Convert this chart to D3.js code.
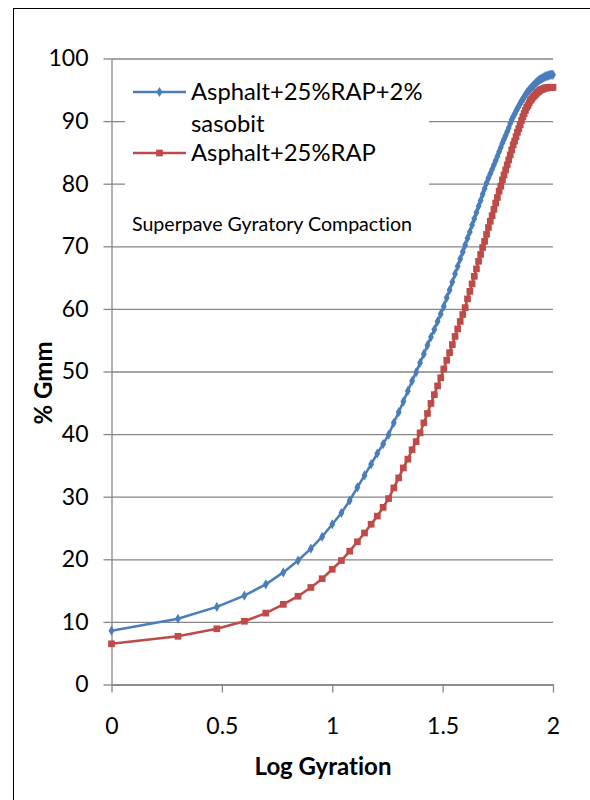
<!DOCTYPE html>
<html>
<head>
<meta charset="utf-8">
<script src="https://cdn.jsdelivr.net/npm/d3@7"></script>
<style>
  body { margin: 0; background: #fff; }
  svg text { font-family: Lato, "Open Sans", sans-serif; fill: #000; font-variant-ligatures: none; }
</style>
</head>
<body>
<div id="chart"></div>
<script>
// gyration count 1..100, plotted on log10 axis
const gyrations = [1,2,3,4,5,6,7,8,9,10,11,12,13,14,15,16,17,18,19,20,
  21,22,23,24,25,26,27,28,29,30,31,32,33,34,35,36,37,38,39,40,
  41,42,43,44,45,46,47,48,49,50,51,52,53,54,55,56,57,58,59,60,
  61,62,63,64,65,66,67,68,69,70,71,72,73,74,75,76,77,78,79,80,
  81,82,83,84,85,86,87,88,89,90,91,92,93,94,95,96,97,98,99,100];

const sasobitGmm = [8.6,10.5,12.4,14.2,16.0,17.9,19.8,21.7,23.6,25.6,
  27.4,29.4,31.5,33.4,35.2,36.9,38.4,39.9,41.8,43.5,
  45.2,46.9,48.5,49.9,51.4,52.8,54.2,55.5,56.7,58.0,
  59.2,60.4,61.8,63.0,64.3,65.6,66.8,68.0,69.1,70.2,
  71.3,72.3,73.4,74.4,75.4,76.4,77.3,78.3,79.2,80.1,
  80.9,81.6,82.3,83.0,83.7,84.4,85.1,85.8,86.5,87.1,
  87.7,88.3,88.9,89.6,90.2,90.7,91.1,91.6,92.0,92.4,
  92.8,93.2,93.5,93.8,94.2,94.5,94.7,95.0,95.2,95.4,
  95.6,95.8,96.0,96.2,96.3,96.5,96.6,96.7,96.8,96.9,
  97.0,97.1,97.2,97.2,97.3,97.3,97.4,97.4,97.4,97.4];

const rapGmm = [6.5,7.7,8.9,10.1,11.4,12.8,14.1,15.5,16.9,18.4,
  19.8,21.3,22.8,24.2,25.6,26.9,28.3,29.7,31.4,33.0,
  34.6,36.0,37.5,38.8,40.2,41.8,43.3,44.9,46.3,47.7,
  49.0,50.4,51.8,53.0,54.3,55.6,56.8,58.0,59.1,60.2,
  61.6,62.8,64.0,65.2,66.4,67.6,68.7,69.8,70.8,71.9,
  73.0,74.0,74.9,75.9,76.9,77.8,78.8,79.6,80.6,81.4,
  82.2,83.0,83.8,84.6,85.4,86.2,86.8,87.5,88.2,88.8,
  89.4,90.1,90.7,91.2,91.7,92.2,92.5,92.9,93.3,93.5,
  93.8,94.0,94.2,94.4,94.6,94.7,94.9,95.0,95.1,95.1,
  95.2,95.3,95.3,95.3,95.4,95.4,95.4,95.4,95.4,95.4];

const seriesNames = ["Asphalt+25%RAP+2%", "sasobit", "Asphalt+25%RAP"];
const xTicks = [0, 0.5, 1, 1.5, 2];
const yTicks = [0, 10, 20, 30, 40, 50, 60, 70, 80, 90, 100];

const W = 590, H = 800;
const plotLeft = 111.5, plotRight = 553, plotTop = 58.5, plotBottom = 684.5;
const blue = "#4A7EBB", red = "#BE4B48", grid = "#868686";

const svg = d3.select("#chart").append("svg")
  .attr("width", W).attr("height", H);

svg.append("rect")
  .attr("x", 13.5).attr("y", 8.5)
  .attr("width", W).attr("height", H)
  .attr("fill", "#fff").attr("stroke", "#000").attr("stroke-width", 1);

const x = d3.scaleLinear().domain([0, 2]).range([plotLeft, plotRight]);
const y = d3.scaleLinear().domain([0, 100]).range([plotBottom, plotTop]);

// gridlines
svg.append("g")
  .attr("transform", `translate(${plotLeft},0)`)
  .call(d3.axisLeft(y).tickValues(yTicks).tickSize(-(plotRight - plotLeft)).tickFormat(""))
  .call(g => g.select(".domain").remove())
  .call(g => g.selectAll("line").attr("stroke", grid).attr("stroke-width", 1.3));

// y axis
svg.append("g")
  .attr("transform", `translate(${plotLeft},0)`)
  .call(d3.axisLeft(y).tickValues(yTicks).tickSize(8).tickSizeOuter(0).tickPadding(15))
  .call(g => g.select(".domain").attr("stroke", grid).attr("stroke-width", 1.3))
  .call(g => g.selectAll("line").attr("stroke", grid).attr("stroke-width", 1.3))
  .call(g => g.selectAll("text").attr("font-size", 23).attr("font-family", "Lato"));

// x axis
svg.append("g")
  .attr("transform", `translate(0,${plotBottom})`)
  .call(d3.axisBottom(x).tickValues(xTicks).tickSize(8).tickSizeOuter(0).tickPadding(25)
    .tickFormat(d3.format("")))
  .call(g => g.select(".domain").attr("stroke", grid).attr("stroke-width", 1.3))
  .call(g => g.selectAll("line").attr("stroke", grid).attr("stroke-width", 1.3))
  .call(g => g.selectAll("text").attr("font-size", 23).attr("font-family", "Lato"));

svg.append("text")
  .attr("x", 323).attr("y", 775)
  .attr("text-anchor", "middle")
  .attr("font-size", 24).attr("font-weight", "bold")
  .text("Log Gyration");

svg.append("text")
  .attr("transform", "translate(52,383) rotate(-90)")
  .attr("text-anchor", "middle")
  .attr("font-size", 24).attr("font-weight", "bold")
  .text("% Gmm");

const line = d3.line()
  .x((d, i) => x(Math.log10(gyrations[i])))
  .y(d => y(d));

function drawSeries(values, color, marker, size) {
  svg.append("path")
    .datum(values)
    .attr("fill", "none")
    .attr("stroke", color)
    .attr("stroke-width", 2.6)
    .attr("d", line);
  svg.append("g").selectAll("path")
    .data(values)
    .join("path")
    .attr("transform", (d, i) => `translate(${x(Math.log10(gyrations[i]))},${y(d)})`)
    .attr("d", d3.symbol().type(marker).size(size))
    .attr("fill", color);
}

drawSeries(sasobitGmm, blue, d3.symbolDiamond, 30);
drawSeries(rapGmm, red, d3.symbolSquare, 45);

// legend
const legend = svg.append("g");
legend.append("rect")
  .attr("x", 125).attr("y", 70).attr("width", 304).attr("height", 132)
  .attr("fill", "#fff");

const legendItems = [
  { color: blue, marker: d3.symbolDiamond, size: 30, y: 92, lines: [seriesNames[0], seriesNames[1]] },
  { color: red, marker: d3.symbolSquare, size: 45, y: 153, lines: [seriesNames[2]] }
];
legendItems.forEach(item => {
  legend.append("line")
    .attr("x1", 133).attr("x2", 186).attr("y1", item.y).attr("y2", item.y)
    .attr("stroke", item.color).attr("stroke-width", 2.6);
  legend.append("path")
    .attr("transform", `translate(159.5,${item.y})`)
    .attr("d", d3.symbol().type(item.marker).size(item.size))
    .attr("fill", item.color);
  item.lines.forEach((t, k) => {
    legend.append("text")
      .attr("x", 191).attr("y", item.y + 8 + k * 32)
      .attr("font-size", 23.8)
      .text(t);
  });
});

svg.append("text")
  .attr("x", 132).attr("y", 231)
  .attr("font-size", 19.6)
  .text("Superpave Gyratory Compaction");
</script>
</body>
</html>
